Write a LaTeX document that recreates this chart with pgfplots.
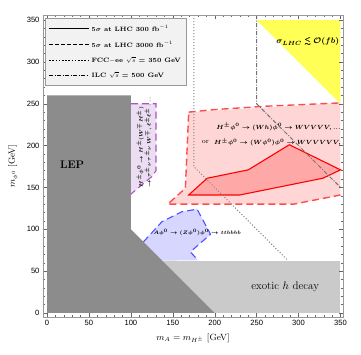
\documentclass[border=0pt]{standalone}
\usepackage{pgfplots}
\pgfplotsset{compat=1.18}
\usepackage{amsmath,amssymb}
\usepackage{bm}
\usepackage{fontspec}
\newfontfamily\tickfont{Liberation Sans}
\definecolor{lep}{RGB}{140,140,140}
\definecolor{exo}{RGB}{202,202,202}
\definecolor{yel}{RGB}{255,255,85}
\definecolor{pinkf}{RGB}{255,214,214}
\definecolor{redd}{RGB}{255,75,75}
\definecolor{redf}{RGB}{255,168,168}
\definecolor{purf}{RGB}{236,222,242}
\definecolor{purd}{RGB}{170,85,190}
\definecolor{bluef}{RGB}{214,214,255}
\definecolor{blued}{RGB}{80,80,255}
\definecolor{lgbg}{RGB}{242,242,242}
\begin{document}
\begin{tikzpicture}
\useasboundingbox (-43pt,-37pt) rectangle (318pt,317pt);
\begin{axis}[
  scale only axis, width=300pt, height=302pt,
  xmin=-4.8, xmax=353, ymin=-4.8, ymax=356,
  xtick={0,50,...,350}, ytick={0,50,...,350},
  minor tick num=4,
  major tick length=4pt, minor tick length=2pt,
  every tick/.style={gray!80!black, thin},
  axis line style={gray!80},
  axis on top,
  tick label style={font=\tickfont\fontsize{7.6}{8}\selectfont},
  /pgf/number format/assume math mode=true,
  xlabel={$m_A = m_{H^\pm}$ [GeV]},
  ylabel={$m_{\phi^0}$ [GeV]},
  label style={font=\fontsize{9}{10}\selectfont},
  xlabel style={yshift=-1pt},
  ylabel style={yshift=2pt},
  legend cell align=left,
  legend style={at={(0.008,0.99)}, anchor=north west, fill=lgbg, draw=gray!80,
    font=\fontsize{6.3}{7}\selectfont\bfseries, row sep=4.6pt, inner xsep=3pt, inner ysep=5pt},
  legend image code/.code={\draw[#1] (0pt,0pt) -- (40pt,0pt);},
]
% yellow triangle
\addplot[fill=yel, draw=none, forget plot] coordinates {(250,350) (350,350) (350,250)} -- cycle;
% LHC 3000 region
\addplot[fill=pinkf, draw=none, forget plot] coordinates {(169,240) (350,251) (350,141) (294,130) (144,130) (165,149)} -- cycle;
\addplot[draw=redd, line width=1.4pt, dash pattern=on 7pt off 4pt, forget plot] coordinates {(169,240) (200,243) (260,247) (350,251)};
\addplot[draw=redd, line width=1.4pt, dash pattern=on 7pt off 4pt, forget plot] coordinates {(350,141) (294,130) (144,130) (165,149) (169,240)};
% LHC 300 region
\addplot[fill=redf, draw=red, line width=1.1pt, forget plot] coordinates {(169,141) (191,161) (240,171) (289,201) (350,171) (329,161) (230,141)} -- cycle;
% purple region
\addplot[fill=purf, draw=none, forget plot] coordinates {(100,250) (130,250) (130,170) (125,163) (100,142)} -- cycle;
\addplot[draw=purd, line width=1.1pt, dash pattern=on 7pt off 4pt, forget plot] coordinates {(100,250) (130,250) (130,170) (125,163) (100,142)};
% blue region
\addplot[fill=bluef, draw=none, forget plot] coordinates {(115,85) (137,109) (161,121) (179,124) (195,94) (171,73) (180,63) (137.5,62.5)} -- cycle;
\addplot[draw=blued, line width=1.1pt, dash pattern=on 7pt off 4pt, forget plot] coordinates {(115,85) (137,109) (161,121) (179,124) (195,94) (171,73) (180,63)};
% exotic h decay
\addplot[fill=exo, draw=none, forget plot] coordinates {(0,0) (350,0) (350,62.5) (0,62.5)} -- cycle;
% LEP
\addplot[fill=lep, draw=none, forget plot] coordinates {(0,0) (0,260) (100,260) (100,100) (200,0)} -- cycle;
% FCC-ee line
\addplot[draw=gray, line width=1pt, dotted, forget plot] coordinates {(175,356) (175,175) (287.5,62.5)};
% ILC line
\addplot[draw=gray!90!black, line width=1pt, dash pattern=on 4pt off 1.5pt on 1pt off 1.5pt, forget plot] coordinates {(250,356) (250,250) (350,150)};
% legend
\addlegendimage{black, line width=1.1pt}
\addlegendentry{$\bm{5\sigma}$ at LHC 300 fb$^{-1}$}
\addlegendimage{black, line width=1.1pt, dash pattern=on 4pt off 2pt}
\addlegendentry{$\bm{5\sigma}$ at LHC 3000 fb$^{-1}$}
\addlegendimage{black, line width=1.1pt, dash pattern=on 1.6pt off 1.6pt}
\addlegendentry{FCC$-$ee $\sqrt{s}$ = 350 GeV}
\addlegendimage{black, line width=1.1pt, dash pattern=on 4pt off 1.5pt on 1pt off 1.5pt}
\addlegendentry{ILC $\sqrt{s}$ = 500 GeV}
% labels
\node[font=\fontsize{11}{12}\selectfont\bfseries] at (axis cs:30,177) {LEP};
\node[font=\fontsize{11}{12}\selectfont] at (axis cs:284,31) {exotic $h$ decay};
\node[font=\fontsize{8}{9}\selectfont] at (axis cs:311,324) {$\bm{\sigma_{LHC} \lesssim \mathcal{O}(fb)}$};
\node[font=\fontsize{6.3}{7}\selectfont] at (axis cs:276,222) {$\bm{H^\pm\phi^0 \to (Wh)\phi^0 \to WVVVV, ...}$};
\node[font=\fontsize{6.3}{7}\selectfont] at (axis cs:280,204) {$\bm{H^\pm\phi^0 \to (W\phi^0)\phi^0 \to WVVVVV, ...}$};
\node[font=\fontsize{7}{8}\selectfont] at (axis cs:189,204) {or};
\node[font=\fontsize{5.5}{6}\selectfont] at (axis cs:179,96) {$\bm{A\phi^0 \to (Z\phi^0)\phi^0 \to ttbbbb}$};
\node[font=\fontsize{5.5}{6.5}\selectfont, rotate=90, align=left, anchor=west] at (axis cs:116,146) {$\bm{H^\pm\phi^0 \to H^\pm (W^\mp H^\pm)}$\\$\bm{\to \tau^\pm\nu\,\tau^\pm\nu\,W^\mp, \ell^\pm\ell^\pm\ldots}$};
\end{axis}
\end{tikzpicture}
\end{document}
